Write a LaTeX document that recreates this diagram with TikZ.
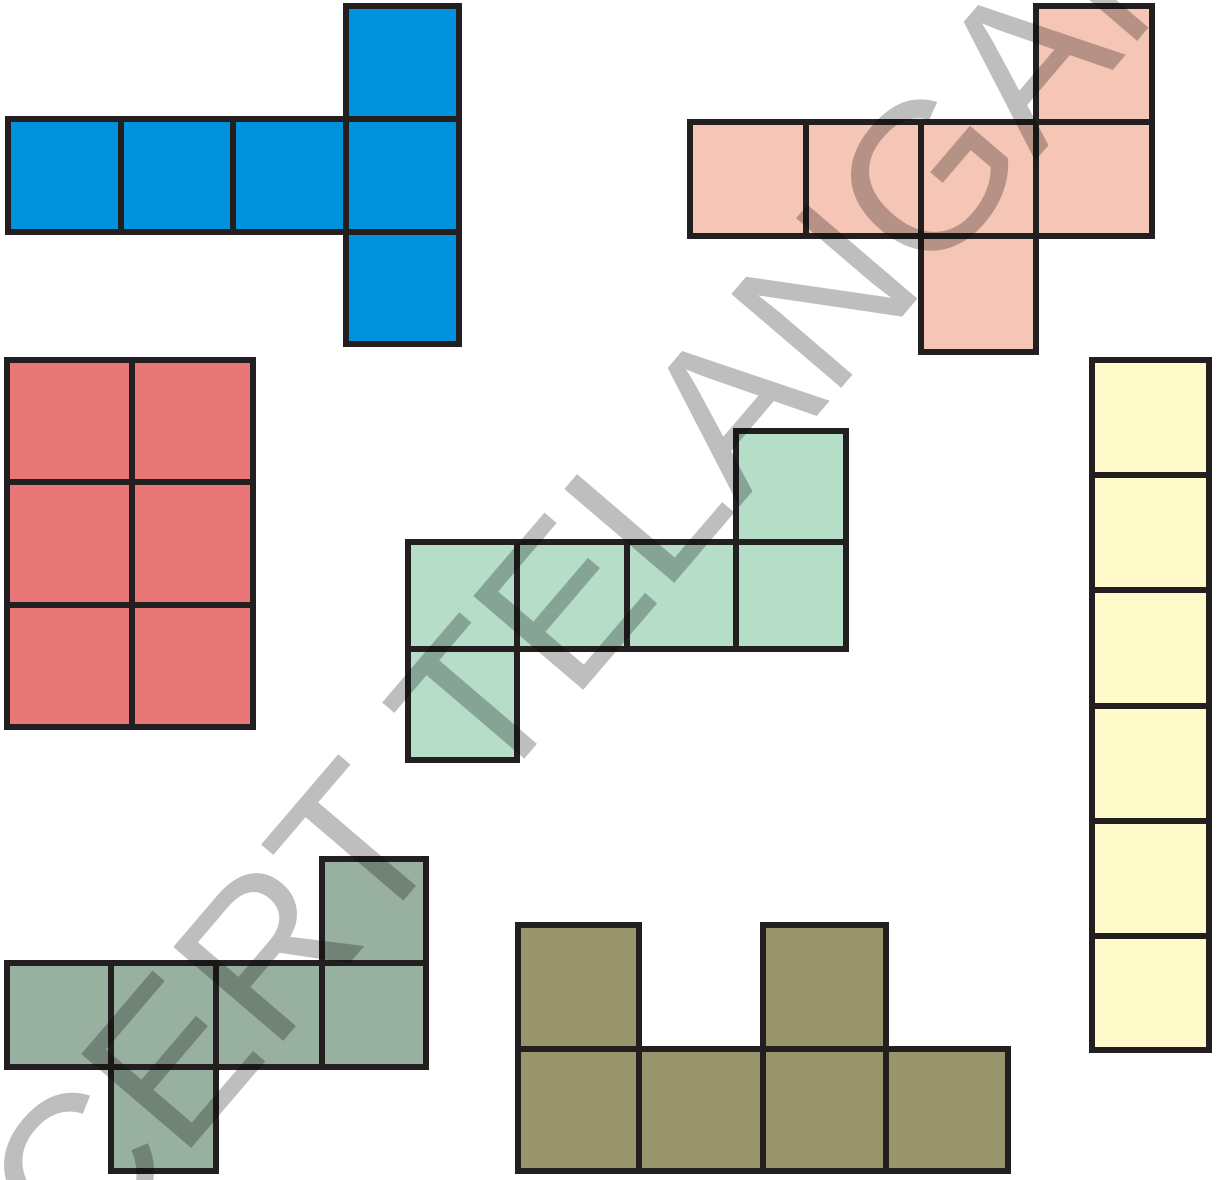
\documentclass[tikz,border=0pt]{standalone}
\usepackage{fontspec}
\newfontfamily\markfont{Liberation Sans}
\definecolor{netline}{RGB}{35,31,32}
\definecolor{netblue}{RGB}{0,146,221}
\definecolor{netpeach}{RGB}{245,197,181}
\definecolor{netred}{RGB}{232,119,119}
\definecolor{netmint}{RGB}{181,221,200}
\definecolor{netyellow}{RGB}{255,250,202}
\definecolor{netsage}{RGB}{152,176,160}
\definecolor{netolive}{RGB}{152,148,107}
\tikzset{
    cell/.style={draw=netline, line width=1.5pt, fill=#1},
    watermark/.style={font=\markfont\fontsize{59.75pt}{60pt}\selectfont, text=black, opacity=0.255, rotate=49.5, anchor=base west, inner sep=0pt}
}
\begin{document}
\begin{tikzpicture}[x=0.01cm, y=-0.01cm]
    \useasboundingbox (0,0) rectangle (1219,1180);

    % Blue net
    \foreach \xa/\xb in {8/121, 121/233, 233/346, 346/459}
        \draw[cell=netblue] (\xa,119) rectangle (\xb,232);
    \foreach \ya/\yb in {6/119, 232/344}
        \draw[cell=netblue] (346,\ya) rectangle (459,\yb);

    % Peach net
    \foreach \xa/\xb in {690/806, 806/921, 921/1036, 1036/1152}
        \draw[cell=netpeach] (\xa,122) rectangle (\xb,236);
    \draw[cell=netpeach] (1036,6) rectangle (1152,122);
    \draw[cell=netpeach] (921,236) rectangle (1036,352);

    % Red net
    \foreach \ya/\yb in {360/482, 482/605, 605/727}
        \foreach \xa/\xb in {7/132, 132/253}
            \draw[cell=netred] (\xa,\ya) rectangle (\xb,\yb);

    % Mint net
    \foreach \xa/\xb in {408/517, 517/627, 627/736, 736/846}
        \draw[cell=netmint] (\xa,542) rectangle (\xb,649);
    \draw[cell=netmint] (736,431) rectangle (846,542);
    \draw[cell=netmint] (408,649) rectangle (517,760);

    % Yellow strip
    \foreach \ya/\yb in {360/475, 475/590, 590/706, 706/821, 821/936, 936/1050}
        \draw[cell=netyellow] (1092,\ya) rectangle (1209,\yb);

    % Sage net
    \foreach \xa/\xb in {7/111, 111/216, 216/322, 322/426}
        \draw[cell=netsage] (\xa,963) rectangle (\xb,1067);
    \draw[cell=netsage] (322,859) rectangle (426,963);
    \draw[cell=netsage] (111,1067) rectangle (216,1171);

    % Olive net
    \foreach \xa/\xb in {518/639, 639/763, 763/886, 886/1008}
        \draw[cell=netolive] (\xa,1049) rectangle (\xb,1171);
    \draw[cell=netolive] (518,925) rectangle (639,1049);
    \draw[cell=netolive] (763,925) rectangle (886,1049);

    % Watermark
    \node[watermark] (mark) at (-9,1384) {SCERT TELANGANA};
\end{tikzpicture}
\end{document}
